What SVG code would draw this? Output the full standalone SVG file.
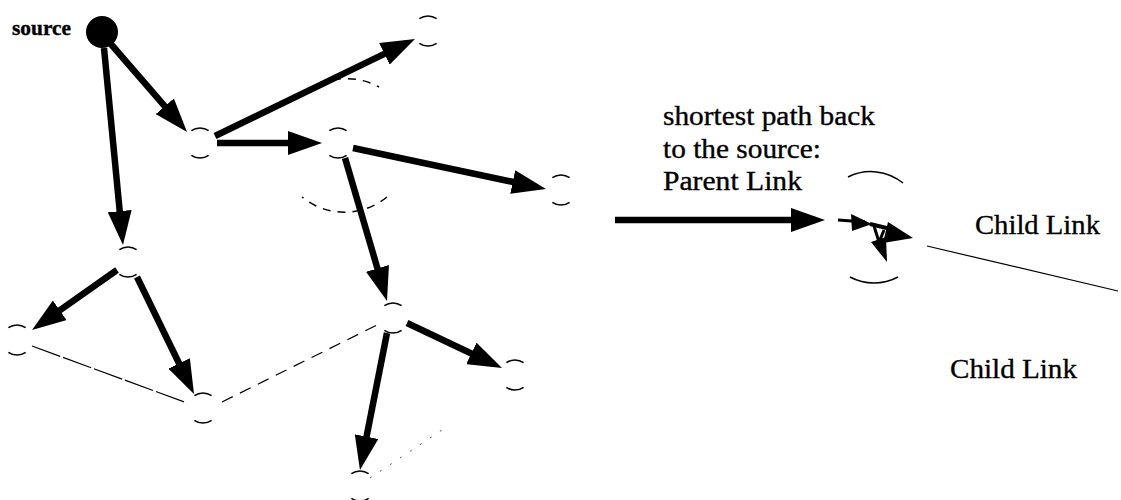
<svg xmlns="http://www.w3.org/2000/svg" xmlns:xlink="http://www.w3.org/1999/xlink" width="1121" height="500" viewBox="0 0 1121 500">
  <style>
    .tree { stroke: #000; stroke-width: 6.5; fill: none; marker-end: url(#head); }
    .ring { stroke: #000; stroke-width: 1.5; fill: none; }
    .thin { stroke: #000; stroke-width: 1.2; fill: none; }
    .txt { font-family: "Liberation Serif", "Times New Roman", serif; fill: #000; stroke: #000; stroke-width: 0.35; }
  </style>
  <defs>
    <marker id="head" markerUnits="userSpaceOnUse" markerWidth="34" markerHeight="24" refX="24" refY="12" orient="auto">
      <path d="M0,0 L34,12 L0,24 Z" fill="#000"/>
    </marker>
    <!-- node drawn as top and bottom arcs only -->
    <g id="ring">
      <path class="ring" d="M-8.6,-12.3 A15,15 0 0 1 8.6,-12.3"/>
      <path class="ring" d="M-8.6,12.3 A15,15 0 0 0 8.6,12.3"/>
    </g>
  </defs>

  <!-- connectors -->
  <g id="connectors">
    <!-- spanning tree (parent links) -->
    <line class="tree" x1="110" y1="43" x2="180.5" y2="124.4"/>
    <line class="tree" x1="104" y1="48" x2="122" y2="235"/>
    <line class="tree" x1="215" y1="136" x2="406" y2="43.4"/>
    <line class="tree" x1="217" y1="143" x2="312" y2="143"/>
    <line class="tree" x1="353" y1="148" x2="536.2" y2="186.9"/>
    <line class="tree" x1="345" y1="158" x2="384.2" y2="291.4"/>
    <line class="tree" x1="117" y1="270" x2="40.2" y2="324.2"/>
    <line class="tree" x1="137" y1="277" x2="189.6" y2="385"/>
    <line class="tree" x1="407" y1="323" x2="493" y2="363.7"/>
    <line class="tree" x1="387" y1="333" x2="361.9" y2="460.2"/>
    <!-- other links -->
    <line class="thin" x1="32" y1="346" x2="187" y2="403" stroke-dasharray="30 3"/>
    <line class="thin" x1="222" y1="402" x2="377" y2="325" stroke-dasharray="12 8"/>
    <line x1="370" y1="478" x2="442" y2="430" stroke="#555" stroke-width="1" stroke-dasharray="2 10"/>
    <!-- legend arrow -->
    <line class="tree" x1="615" y1="220" x2="815" y2="220"/>
    <!-- legend child link -->
    <line class="thin" x1="927" y1="246" x2="1118" y2="291"/>
  </g>

  <!-- neighbourhood of the branching node -->
  <g id="region" class="ring" stroke-dasharray="8 7">
    <path d="M333,80 A67,67 0 0 1 379,87"/>
    <path d="M387,197 A67,67 0 0 1 302,197"/>
  </g>

  <!-- nodes -->
  <g id="source">
    <circle cx="102" cy="32" r="16" fill="#000"/>
    <text class="txt" x="12" y="35" font-size="20" font-weight="bold" textLength="59" lengthAdjust="spacingAndGlyphs">source</text>
  </g>
  <g id="nA"><use xlink:href="#ring" x="200" y="143"/></g>
  <g id="nB"><use xlink:href="#ring" x="428" y="31"/></g>
  <g id="nC"><use xlink:href="#ring" x="338" y="143"/></g>
  <g id="nD"><use xlink:href="#ring" x="561" y="190"/></g>
  <g id="nE"><use xlink:href="#ring" x="128" y="262"/></g>
  <g id="nF"><use xlink:href="#ring" x="17" y="340"/></g>
  <g id="nG"><use xlink:href="#ring" x="203" y="408"/></g>
  <g id="nH"><use xlink:href="#ring" x="393" y="318"/></g>
  <g id="nI"><use xlink:href="#ring" x="515" y="375"/></g>
  <g id="nJ"><use xlink:href="#ring" x="360" y="486"/></g>

  <!-- legend node with its parent and child links -->
  <g id="legend-node">
    <path class="ring" d="M848,177 A51,51 0 0 1 903,183"/>
    <path class="ring" d="M898,277 A51,51 0 0 1 850,277"/>
    <line x1="838" y1="220" x2="865" y2="222" stroke="#000" stroke-width="3"/>
    <polygon points="851,214 852,231 872,224" fill="#000"/>
    <line x1="870" y1="224" x2="895" y2="230" stroke="#000" stroke-width="4"/>
    <polygon points="888,222 883,243 913,238" fill="#000"/>
    <path d="M874,226 L879,242 M884,230 L880,240" stroke="#000" stroke-width="3" fill="none"/>
    <polygon points="871,242 886,237 887,262" fill="#000"/>
  </g>

  <!-- legend labels -->
  <g id="labels" class="txt" font-size="27">
    <text x="663" y="125" textLength="212" lengthAdjust="spacingAndGlyphs">shortest path back</text>
    <text x="663" y="158" textLength="158" lengthAdjust="spacingAndGlyphs">to the source:</text>
    <text x="663" y="190" textLength="139" lengthAdjust="spacingAndGlyphs">Parent Link</text>
    <text x="975" y="234" font-size="28" textLength="125" lengthAdjust="spacingAndGlyphs">Child Link</text>
    <text x="950" y="378" font-size="28" textLength="127" lengthAdjust="spacingAndGlyphs">Child Link</text>
  </g>
</svg>
